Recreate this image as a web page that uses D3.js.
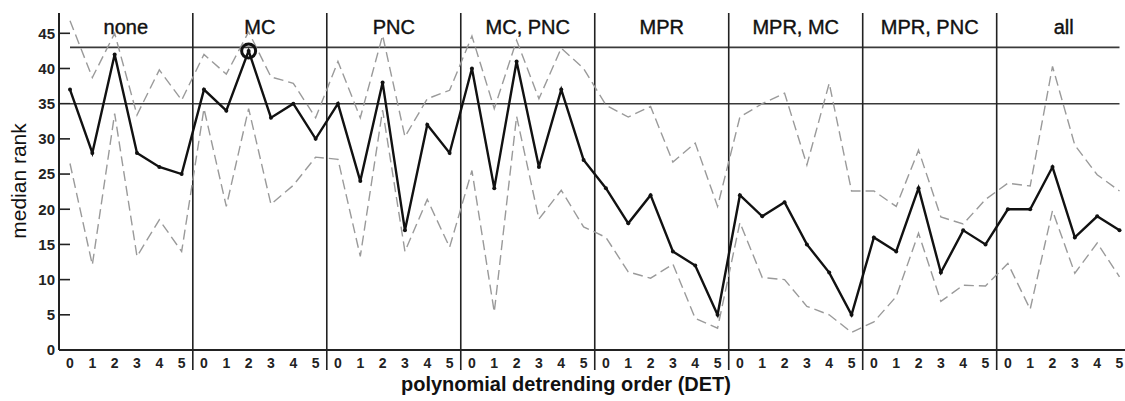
<!DOCTYPE html>
<html>
<head>
<meta charset="utf-8">
<script src="https://cdn.jsdelivr.net/npm/d3@7"></script>
<style>
    body { margin: 0; background: #fff; }
    svg { display: block; font-family: "Liberation Sans", Arial, sans-serif; }
    .dash { fill: none; stroke: #9a9a9a; stroke-width: 1.4; stroke-dasharray: 10 5; }
    .median { fill: none; stroke: #111; stroke-width: 2.4; stroke-linejoin: miter; }
</style>
</head>
<body>
<div id="chart"></div>
<script>

const groups = ["none", "MC", "PNC", "MC, PNC", "MPR", "MPR, MC", "MPR, PNC", "all"];
const detOrders = [0, 1, 2, 3, 4, 5];
const yTicks = [0, 5, 10, 15, 20, 25, 30, 35, 40, 45];
const refLines = [35, 43];

const medianRank = [
    37, 28, 42, 28, 26, 25,
    37, 34, 42.5, 33, 35, 30,
    35, 24, 38, 17, 32, 28,
    40, 23, 41, 26, 37, 27,
    23, 18, 22, 14, 12, 5,
    22, 19, 21, 15, 11, 5,
    16, 14, 23, 11, 17, 15,
    20, 20, 26, 16, 19, 17
];

const upperRank = [
    46.8, 38.7, 45, 33.4, 39.8, 35.5,
    42, 39.2, 45.2, 38.8, 37.9, 33,
    41, 33, 44.7, 30.3, 35.7, 36.9,
    44.6, 34.3, 44, 35.7, 42.9, 40,
    34.8, 33.1, 34.6, 26.7, 29.4, 20.4,
    33.1, 35, 36.5, 26.3, 37.9, 22.6,
    22.6, 20.4, 28.4, 18.9, 17.9, 21.4,
    23.7, 23.3, 40.3, 29.1, 24.9, 22.6
];

const lowerRank = [
    26.5, 12.1, 33.6, 13.3, 18.5, 14,
    34.3, 20.4, 34.3, 20.7, 23.4, 27.4,
    27.1, 13.3, 34.1, 14, 21.4, 14.6,
    25.5, 5.4, 33.2, 18.6, 22.7, 17.5,
    16, 11.1, 10.2, 12.2, 4.5, 3.1,
    18.1, 10.3, 10, 6.2, 5, 2.5,
    4, 7.6, 16.6, 6.9, 9.2, 9.1,
    12.3, 5.8, 19.8, 10.9, 15.2, 10.4
];

const highlight = { group: "MC", det: 2 };

const width = 1125, height = 401;
const nPer = detOrders.length;
const nAll = groups.length * nPer;

const svg = d3.select("#chart")
    .append("svg")
        .attr("width", width)
        .attr("height", height);

const x = d3.scaleLinear()
    .domain([0, nAll - 1])
    .range([70, 1119.5]);

const y = d3.scaleLinear()
    .domain([0, 45])
    .range([350, 33.3]);

const yTop = y(47.9);

// reference lines
svg.selectAll("line.ref")
    .data(refLines)
    .enter()
    .append("line")
        .classed("ref", true)
        .attr("x1", x(0))
        .attr("x2", x(nAll - 1))
        .attr("y1", d => y(d))
        .attr("y2", d => y(d))
        .attr("stroke", "#3a3a3a")
        .attr("stroke-width", 1.6);

// group separators
svg.selectAll("line.sep")
    .data(d3.range(1, groups.length))
    .enter()
    .append("line")
        .classed("sep", true)
        .attr("x1", g => x(g * nPer - 0.5))
        .attr("x2", g => x(g * nPer - 0.5))
        .attr("y1", yTop)
        .attr("y2", 370)
        .attr("stroke", "#222")
        .attr("stroke-width", 1.6);

// group titles
svg.selectAll("text.group")
    .data(groups)
    .enter()
    .append("text")
        .classed("group", true)
        .text(d => d)
        .attr("x", (d, g) => x(g * nPer + (nPer - 1) / 2))
        .attr("y", 34)
        .attr("text-anchor", "middle")
        .attr("font-size", 20)
        .attr("fill", "#111")
        .attr("stroke", "#111")
        .attr("stroke-width", 0.4);

// axes
svg.append("line")
    .attr("x1", x(0) - 11)
    .attr("x2", width)
    .attr("y1", y(0))
    .attr("y2", y(0))
    .attr("stroke", "#222")
    .attr("stroke-width", 2);

svg.append("line")
    .attr("x1", x(0) - 11)
    .attr("x2", x(0) - 11)
    .attr("y1", yTop)
    .attr("y2", y(0))
    .attr("stroke", "#222")
    .attr("stroke-width", 2);

const yAxis = svg.append("g");
yAxis.selectAll("line")
    .data(yTicks.filter(d => d > 0))
    .enter()
    .append("line")
        .attr("x1", x(0) - 11)
        .attr("x2", x(0))
        .attr("y1", d => y(d))
        .attr("y2", d => y(d))
        .attr("stroke", "#222")
        .attr("stroke-width", 1.6);

yAxis.selectAll("text")
    .data(yTicks)
    .enter()
    .append("text")
        .text(d => d)
        .attr("x", 55)
        .attr("y", d => y(d))
        .attr("dy", "0.36em")
        .attr("text-anchor", "end")
        .attr("font-size", 15)
        .attr("font-weight", "bold")
        .attr("fill", "#222");

svg.append("g")
    .selectAll("text")
    .data(d3.range(nAll))
    .enter()
    .append("text")
        .text(i => detOrders[i % nPer])
        .attr("x", i => x(i))
        .attr("y", 363)
        .attr("dy", "0.36em")
        .attr("text-anchor", "middle")
        .attr("font-size", 14)
        .attr("font-weight", "bold")
        .attr("fill", "#222");

svg.append("text")
    .text("median rank")
    .attr("transform", "translate(26, 181) rotate(-90)")
    .attr("text-anchor", "middle")
    .attr("font-size", 21)
    .attr("fill", "#111");

svg.append("text")
    .text("polynomial detrending order (DET)")
    .attr("x", 566)
    .attr("y", 391)
    .attr("text-anchor", "middle")
    .attr("font-size", 20)
    .attr("font-weight", "bold")
    .attr("fill", "#111");

// series
const line = d3.line()
    .x((d, i) => x(i))
    .y(d => y(d));

svg.selectAll("path.dash")
    .data([upperRank, lowerRank])
    .enter()
    .append("path")
        .classed("dash", true)
        .attr("d", line);

svg.append("path")
    .datum(medianRank)
    .classed("median", true)
    .attr("d", line);

svg.selectAll("circle.pt")
    .data(medianRank)
    .enter()
    .append("circle")
        .classed("pt", true)
        .attr("cx", (d, i) => x(i))
        .attr("cy", d => y(d))
        .attr("r", 2)
        .attr("fill", "#111");

const hi = groups.indexOf(highlight.group) * nPer + detOrders.indexOf(highlight.det);
svg.append("circle")
    .attr("cx", x(hi))
    .attr("cy", y(medianRank[hi]))
    .attr("r", 7)
    .attr("fill", "none")
    .attr("stroke", "#111")
    .attr("stroke-width", 3);

</script>
</body>
</html>
